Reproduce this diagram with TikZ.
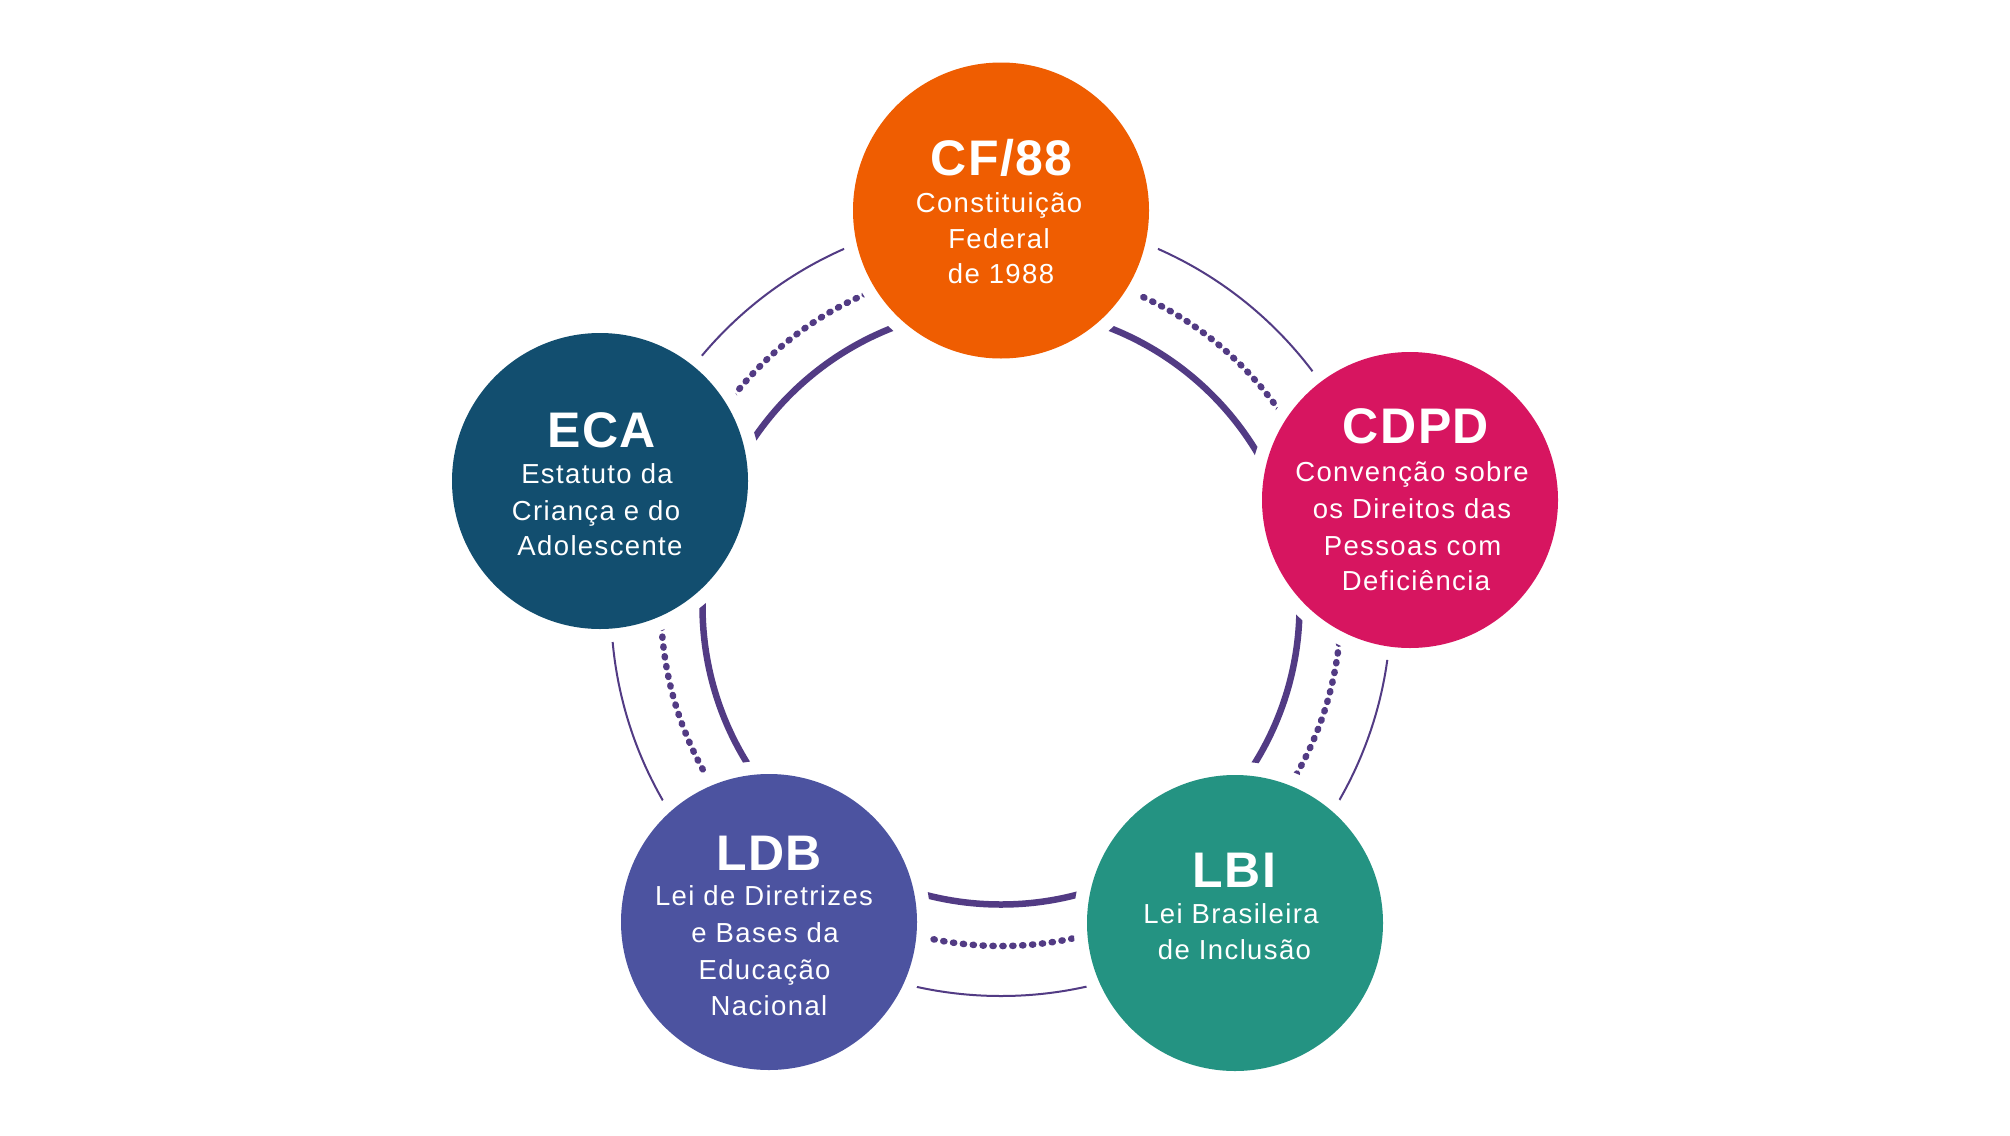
\documentclass[tikz,border=0pt]{standalone}
\usepackage{fontspec}
\setmainfont{Liberation Sans}
\newfontfamily\subfont[LetterSpace=5]{Liberation Sans}
\newfontfamily\ttlfont[LetterSpace=3]{Liberation Sans}
\definecolor{cforange}{HTML}{EF5D01}
\definecolor{ecablue}{HTML}{124E6F}
\definecolor{cdpdpink}{HTML}{D71560}
\definecolor{ldbblue}{HTML}{4C53A0}
\definecolor{lbigreen}{HTML}{249382}
\definecolor{ringpurple}{HTML}{523B84}
\tikzset{
  disc/.style={circle, inner sep=0pt, minimum size=296pt, draw=none},
  ttl/.style={anchor=base, inner sep=0pt, text=white, font=\ttlfont\bfseries\fontsize{50}{50}\selectfont},
  sub/.style={anchor=base, inner sep=0pt, text=white, font=\subfont\fontsize{27.5}{36}\selectfont},
  ringsolid/.style={draw=ringpurple, line width=6.5pt},
  ringdots/.style={draw=ringpurple, line width=6.5pt, line cap=round, dash pattern=on 1.2pt off 8.7pt},
  ringthin/.style={draw=ringpurple, line width=2pt}
}
\begin{document}
\begin{tikzpicture}[x=1pt, y=-1pt]
\fill[white] (0,0) rectangle (2010,1135);
\path[use as bounding box] (0,0) rectangle (2010,1135);
% centres
\coordinate (ring) at (1001,606);
\coordinate (pcf) at (1001,210.5);
\coordinate (peca) at (600,481);
\coordinate (pcdpd) at (1410,500);
\coordinate (pldb) at (769,922);
\coordinate (plbi) at (1235,923);
% concentric rings, interrupted around each disc
\begin{scope}[even odd rule]
  \clip (0,0) rectangle (2010,1135)
    (pcf) circle[radius=161.5pt]
    (peca) circle[radius=161.5pt]
    (pcdpd) circle[radius=161.5pt]
    (pldb) circle[radius=161.5pt]
    (plbi) circle[radius=161.5pt];
  \path[ringsolid] (ring) circle[radius=298.5pt];
  \path[ringdots] (ring) circle[radius=340pt];
  \path[ringthin] (ring) circle[radius=390pt];
\end{scope}
% discs
\node[disc, fill=cforange] (cf) at (pcf) {};
\node[disc, fill=ecablue] (eca) at (peca) {};
\node[disc, fill=cdpdpink] (cdpd) at (pcdpd) {};
\node[disc, fill=ldbblue] (ldb) at (pldb) {};
\node[disc, fill=lbigreen] (lbi) at (plbi) {};
% CF/88
\node[ttl] (cf-t) at (1001.5,175) {CF/88};
\node[sub] (cf-1) at (999,212.7) {Constituição};
\node[sub] (cf-2) at (999,248) {Federal};
\node[sub] (cf-3) at (1001,283.3) {de 1988};
% ECA
\node[ttl] (eca-t) at (601.5,447) {ECA};
\node[sub] (eca-1) at (597,483.3) {Estatuto da};
\node[sub] (eca-2) at (596,520) {Criança e do};
\node[sub] (eca-3) at (600,555) {Adolescente};
% CDPD
\node[ttl] (cdpd-t) at (1416,443.3) {CDPD};
\node[sub] (cdpd-1) at (1412,481.7) {Convenção sobre};
\node[sub] (cdpd-2) at (1412,518.3) {os Direitos das};
\node[sub] (cdpd-3) at (1412.5,555) {Pessoas com};
\node[sub] (cdpd-4) at (1416,590.7) {Deficiência};
% LDB
\node[ttl] (ldb-t) at (769,870) {LDB};
\node[sub] (ldb-1) at (764,905.7) {Lei de Diretrizes};
\node[sub] (ldb-2) at (765,942.7) {e Bases da};
\node[sub] (ldb-3) at (764.5,979) {Educação};
\node[sub] (ldb-4) at (769,1015) {Nacional};
% LBI
\node[ttl] (lbi-t) at (1234.5,887.5) {LBI};
\node[sub] (lbi-1) at (1231,923.5) {Lei Brasileira};
\node[sub] (lbi-2) at (1234.5,959.5) {de Inclusão};
\end{tikzpicture}
\end{document}
